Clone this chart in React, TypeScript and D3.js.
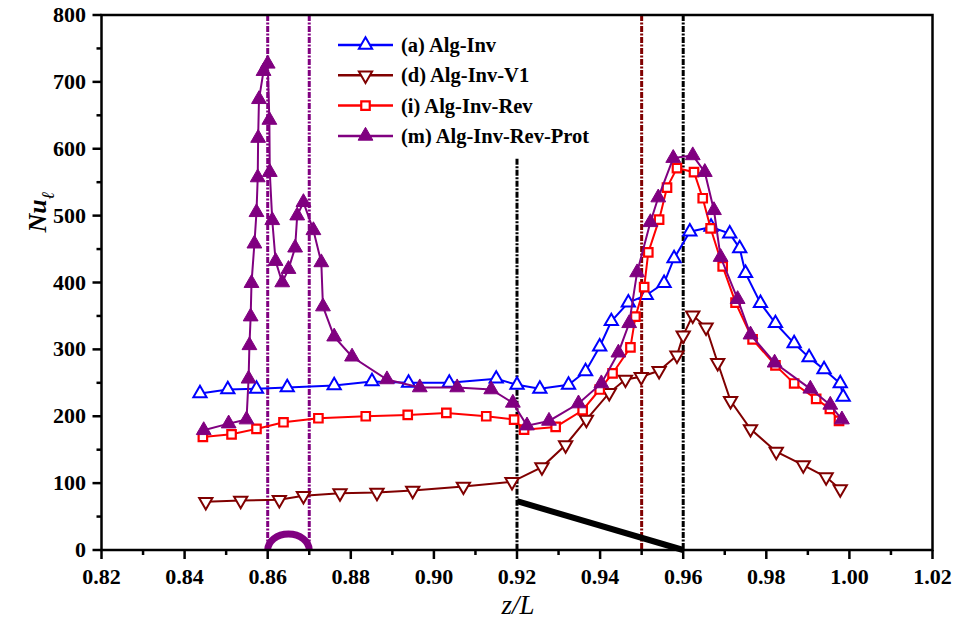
import React from 'react';
import * as d3 from 'd3';

// ---- Data ----
const zA = [0.8437, 0.8504, 0.8573, 0.8647, 0.876, 0.8851, 0.8939, 0.9037, 0.915, 0.92, 0.9255, 0.9324, 0.9365, 0.9399, 0.9427, 0.9468, 0.9511, 0.9554, 0.9578, 0.9616, 0.9667, 0.9712, 0.9736, 0.975, 0.9786, 0.9822, 0.9867, 0.9903, 0.9939, 0.9978, 0.9985];
const nuA = [234, 240, 241, 243, 246, 252, 250, 250, 256, 247, 241, 247, 267, 304, 342, 370, 381, 399, 436, 476, 483, 473, 451, 414, 369, 339, 309, 288, 270, 249, 229];

const zD = [0.8451, 0.8535, 0.8628, 0.8686, 0.8774, 0.8863, 0.8949, 0.9071, 0.9188, 0.926, 0.9317, 0.9367, 0.9422, 0.9461, 0.9499, 0.9542, 0.9585, 0.96, 0.9623, 0.9655, 0.9683, 0.9714, 0.9762, 0.9824, 0.9889, 0.9944, 0.9978];
const nuD = [72, 74, 75, 81, 85, 86, 89, 95, 102, 124, 157, 195, 235, 255, 259, 268, 291, 321, 351, 333, 280, 223, 181, 147, 127, 109, 91];

const zI = [0.8444, 0.8513, 0.8573, 0.8638, 0.8722, 0.8836, 0.8937, 0.903, 0.9126, 0.9193, 0.9217, 0.9293, 0.9358, 0.9399, 0.943, 0.9473, 0.9485, 0.9506, 0.9516, 0.9542, 0.9561, 0.9585, 0.9626, 0.9647, 0.9666, 0.9695, 0.9726, 0.9767, 0.9822, 0.9867, 0.992, 0.9953, 0.9975];
const nuI = [169, 173, 181, 191, 197, 200, 202, 205, 200, 195, 180, 184, 209, 240, 264, 303, 349, 393, 445, 494, 542, 571, 565, 526, 481, 424, 370, 315, 276, 249, 226, 211, 193];

const zM = [0.8446, 0.8506, 0.8549, 0.8554, 0.8556, 0.8559, 0.8561, 0.8568, 0.8573, 0.8576, 0.8577, 0.8579, 0.859, 0.86, 0.8604, 0.8605, 0.8611, 0.8619, 0.8635, 0.865, 0.8666, 0.8671, 0.8686, 0.871, 0.8729, 0.8733, 0.876, 0.8803, 0.8887, 0.8966, 0.9056, 0.9138, 0.919, 0.9224, 0.9277, 0.9348, 0.9403, 0.9444, 0.947, 0.9489, 0.9521, 0.954, 0.9576, 0.9623, 0.9652, 0.9674, 0.969, 0.9731, 0.9762, 0.982, 0.9906, 0.9954, 0.9982];
const nuM = [179, 189, 195, 256, 306, 349, 399, 458, 505, 557, 616, 674, 716, 727, 643, 565, 493, 432, 400, 420, 452, 500, 520, 478, 430, 364, 319, 289, 255, 243, 243, 240, 220, 186, 193, 219, 249, 295, 339, 415, 490, 527, 586, 590, 565, 508, 438, 375, 322, 280, 241, 217, 195];

const xTicks = [0.82, 0.84, 0.86, 0.88, 0.9, 0.92, 0.94, 0.96, 0.98, 1.0, 1.02];
const yTicks = [0, 100, 200, 300, 400, 500, 600, 700, 800];

// reference lines: position, top value, colour
const refZ = [0.86, 0.87, 0.92, 0.95, 0.96];
const refTop = [800, 800, 585, 800, 800];
const refColor = ['#800080', '#800080', '#000000', '#800000', '#000000'];

const wedgeZ = [0.92, 0.96];
const wedgeNu = [73, 0];

const legendLabels = ['(a) Alg-Inv', '(d) Alg-Inv-V1', '(i) Alg-Inv-Rev', '(m) Alg-Inv-Rev-Prot'];

type Series = { z: number[]; nu: number[]; color: string; marker: 'up' | 'down' | 'square' | 'fup' };

const series: Series[] = [
  { z: zA, nu: nuA, color: '#0000ff', marker: 'up' },
  { z: zD, nu: nuD, color: '#800000', marker: 'down' },
  { z: zI, nu: nuI, color: '#ff0000', marker: 'square' },
  { z: zM, nu: nuM, color: '#800080', marker: 'fup' },
];

const W = 956, H = 626;
const x = d3.scaleLinear().domain([0.82, 1.02]).range([101.5, 932.5]);
const y = d3.scaleLinear().domain([0, 800]).range([550, 15]);

const triPath = d3.symbol().type(d3.symbolTriangle).size(76)() as string;
const ftriPath = d3.symbol().type(d3.symbolTriangle).size(95)() as string;
const sqPath = d3.symbol().type(d3.symbolSquare).size(72)() as string;

function Marker({ kind, color, cx, cy }: { kind: string; color: string; cx: number; cy: number }) {
  if (kind === 'square') {
    return <path d={sqPath} transform={`translate(${cx},${cy})`} fill="#fff" stroke={color} strokeWidth={2.2} />;
  }
  if (kind === 'down') {
    return <path d={triPath} transform={`translate(${cx},${cy}) rotate(180)`} fill="#fff" stroke={color} strokeWidth={2} />;
  }
  if (kind === 'fup') {
    return <path d={ftriPath} transform={`translate(${cx},${cy})`} fill={color} stroke={color} strokeWidth={1} />;
  }
  return <path d={triPath} transform={`translate(${cx},${cy})`} fill="#fff" stroke={color} strokeWidth={2} />;
}

export default function App() {
  const line = d3.line<[number, number]>().x(d => x(d[0])).y(d => y(d[1]));
  const font = '"Liberation Serif", "Times New Roman", serif';
  const minorX = d3.range(0, 21).map(i => 0.82 + i * 0.01);
  const minorY = d3.range(0, 17).map(i => i * 50);

  // semicircle between 0.86 and 0.87
  const ax0 = x(0.86), ax1 = x(0.87);
  const arcRx = (ax1 - ax0) / 2;
  const arcRy = y(0) - y(24);
  const arcD = `M${ax0},${y(0)} A${arcRx},${arcRy} 0 0 1 ${ax1},${y(0)}`;

  return (
    <svg width={W} height={H} style={{ position: 'absolute', left: 0, top: 0, background: '#fff' }} fontFamily={font}>
      <rect width={W} height={H} fill="#fff" />
      {/* reference vertical lines */}
      {refZ.map((z, i) => (
        <line key={'r' + i} x1={x(z)} x2={x(z)} y1={y(refTop[i])} y2={y(0)} stroke={refColor[i]} strokeWidth={3} strokeDasharray="6,1.5,2,1.5" />
      ))}
      {/* black wedge line */}
      <path d={line(wedgeZ.map((z, i) => [z, wedgeNu[i]]) as any) || ''} stroke="#000" strokeWidth={6} fill="none" />
      {/* semicircle */}
      <path d={arcD} stroke="#800080" strokeWidth={7} fill="none" />

      {/* series */}
      {series.map((s, si) => (
        <g key={'s' + si}>
          <path d={line(s.z.map((z, i) => [z, s.nu[i]]) as any) || ''} fill="none" stroke={s.color} strokeWidth={2} />
          {s.z.map((z, i) => (
            <Marker key={i} kind={s.marker} color={s.color} cx={x(z)} cy={y(s.nu[i])} />
          ))}
        </g>
      ))}

      {/* frame */}
      <rect x={x(0.82)} y={y(800)} width={x(1.02) - x(0.82)} height={y(0) - y(800)} fill="none" stroke="#000" strokeWidth={2.5} />

      {/* x ticks */}
      {minorX.map((v, i) => (
        <line key={'mx' + i} x1={x(v)} x2={x(v)} y1={y(0)} y2={y(0) + (i % 2 === 0 ? 9 : 5)} stroke="#000" strokeWidth={2.5} />
      ))}
      {xTicks.map((v, i) => (
        <text key={'xt' + i} x={x(v)} y={584} textAnchor="middle" fontSize={22} fontWeight="bold">{v.toFixed(2)}</text>
      ))}
      {/* y ticks */}
      {minorY.map((v, i) => (
        <line key={'my' + i} x1={x(0.82) - (i % 2 === 0 ? 9 : 5)} x2={x(0.82)} y1={y(v)} y2={y(v)} stroke="#000" strokeWidth={2.5} />
      ))}
      {yTicks.map((v, i) => (
        <text key={'yt' + i} x={86} y={y(v) + 7} textAnchor="end" fontSize={22} fontWeight="bold">{v}</text>
      ))}

      {/* axis titles */}
      <text x={518} y={614} textAnchor="middle" fontSize={27} fontStyle="italic">z/L</text>
      <text transform="translate(46,212) rotate(-90)" textAnchor="middle" fontSize={26} fontStyle="italic" fontWeight="bold">
        Nu<tspan fontSize={18} dy={8}>ℓ</tspan>
      </text>

      {/* legend */}
      {series.map((s, i) => {
        const ly = 45 + i * 30.3;
        return (
          <g key={'lg' + i}>
            <line x1={338} x2={393} y1={ly} y2={ly} stroke={s.color} strokeWidth={2.5} />
            <Marker kind={s.marker} color={s.color} cx={365.5} cy={ly} />
            <text x={401} y={ly + 7} fontSize={20.5} fontWeight="bold">{legendLabels[i]}</text>
          </g>
        );
      })}
    </svg>
  );
}
